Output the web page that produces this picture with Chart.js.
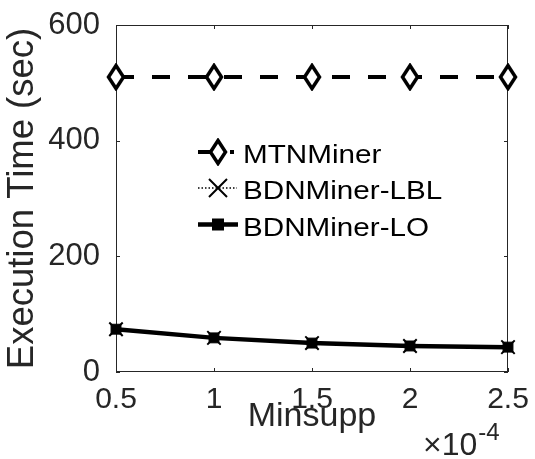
<!DOCTYPE html>
<html>
<head>
<meta charset="utf-8">
<script src="https://cdn.jsdelivr.net/npm/chart.js@4"></script>
<style>
  html, body { margin: 0; padding: 0; background: #fff; }
  #wrap { width: 535px; height: 459px; position: relative; }
</style>
</head>
<body>
<div id="wrap"><canvas id="c" width="535" height="459"></canvas></div>
<script>
// ---- data ----
const minsupp = [0.5, 1, 1.5, 2, 2.5];
const xTickLabels = ['0.5', '1', '1.5', '2', '2.5'];
const yTickLabels = ['0', '200', '400', '600'];
const seriesNames = ['MTNMiner', 'BDNMiner-LBL', 'BDNMiner-LO'];
const mtnMiner = [510, 510, 510, 510, 510];
const bdnLBL = [74, 59, 50, 45, 43];
const bdnLO = [74, 59, 50, 45, 43];
const xExponent = '-4';

const TXT = '#262626';
const FONT = '"Liberation Sans", Arial, Helvetica, sans-serif';

function makeDiamond() {
  const cv = document.createElement('canvas');
  cv.width = 22; cv.height = 28;
  const g = cv.getContext('2d');
  g.beginPath();
  g.moveTo(11, 2.5); g.lineTo(18.5, 14); g.lineTo(11, 25.5); g.lineTo(3.5, 14); g.closePath();
  g.fillStyle = '#fff'; g.fill();
  g.lineWidth = 3.5; g.strokeStyle = '#000'; g.lineJoin = 'miter'; g.stroke();
  return cv;
}
const diamond = makeDiamond();

const toXY = (arr) => arr.map((v, i) => ({ x: minsupp[i], y: v }));

const framePlugin = {
  id: 'frame',
  beforeDatasetsDraw(chart) {
    const { ctx, chartArea: a, scales: { x, y } } = chart;
    ctx.save();
    ctx.strokeStyle = TXT;
    ctx.lineWidth = 1;
    ctx.strokeRect(Math.round(a.left) + 0.5, Math.round(a.top) + 0.5,
      Math.round(a.right - a.left) - 1, Math.round(a.bottom - a.top) - 1);
    const tl = 4;
    ctx.beginPath();
    x.ticks.forEach(t => {
      const px = Math.round(x.getPixelForValue(t.value)) + 0.5;
      ctx.moveTo(px, a.bottom); ctx.lineTo(px, a.bottom - tl);
      ctx.moveTo(px, a.top); ctx.lineTo(px, a.top + tl);
    });
    y.ticks.forEach(t => {
      const py = Math.round(y.getPixelForValue(t.value)) + 0.5;
      ctx.moveTo(a.left, py); ctx.lineTo(a.left + tl, py);
      ctx.moveTo(a.right, py); ctx.lineTo(a.right - tl, py);
    });
    ctx.stroke();
    ctx.restore();
  },
  afterDraw(chart) {
    const { ctx } = chart;
    ctx.save();
    const x0 = 198, x1 = 237, xm = 218, tx = 243;
    const base = [163, 199, 235.5];
    ctx.strokeStyle = '#000';
    ctx.fillStyle = '#000';
    let cy = base[0] - 11;
    ctx.lineWidth = 4;
    ctx.beginPath();
    ctx.moveTo(x0, cy); ctx.lineTo(x0 + 12, cy);
    ctx.moveTo(230, cy); ctx.lineTo(234, cy);
    ctx.stroke();
    ctx.drawImage(diamond, xm - 11, cy - 14);
    cy = base[1] - 11;
    ctx.lineWidth = 1.3;
    ctx.setLineDash([1.5, 2]);
    ctx.beginPath(); ctx.moveTo(x0, cy); ctx.lineTo(x1, cy); ctx.stroke();
    ctx.setLineDash([]);
    ctx.lineWidth = 2;
    ctx.beginPath();
    ctx.moveTo(xm - 9, cy - 9); ctx.lineTo(xm + 9, cy + 9);
    ctx.moveTo(xm + 9, cy - 9); ctx.lineTo(xm - 9, cy + 9);
    ctx.stroke();
    cy = base[2] - 11;
    ctx.lineWidth = 4.5;
    ctx.beginPath(); ctx.moveTo(x0, cy); ctx.lineTo(x1 + 1, cy); ctx.stroke();
    ctx.fillRect(xm - 6, cy - 6, 12, 12);
    ctx.font = '26px ' + FONT;
    ctx.textBaseline = 'alphabetic';
    ctx.textAlign = 'left';
    seriesNames.forEach((n, i) => {
      ctx.save();
      ctx.translate(tx, base[i]);
      ctx.scale(1.14, 1);
      ctx.fillText(n, 0, 0);
      ctx.restore();
    });
    ctx.fillStyle = TXT;
    ctx.font = '32px ' + FONT;
    ctx.fillText('\u00d710', 423, 455);
    const w = ctx.measureText('\u00d710').width;
    ctx.font = '24px ' + FONT;
    ctx.fillText(xExponent, 423 + w + 1, 440);
    ctx.restore();
  }
};

new Chart(document.getElementById('c'), {
  type: 'line',
  data: {
    datasets: [
      {
        label: seriesNames[2], data: toXY(bdnLO), order: 0,
        borderColor: '#000', borderWidth: 4.5, backgroundColor: '#000',
        pointStyle: 'rect', pointRadius: 7, pointBorderWidth: 1,
        pointBackgroundColor: '#000', pointBorderColor: '#000',
        tension: 0, clip: false
      },
      {
        label: seriesNames[1], data: toXY(bdnLBL), order: 1,
        borderColor: '#000', borderWidth: 1.3, borderDash: [1.5, 2],
        pointStyle: 'crossRot', pointRadius: 9.5, pointBorderWidth: 2,
        pointBorderColor: '#000', tension: 0, clip: false
      },
      {
        label: seriesNames[0], data: toXY(mtnMiner), order: 2,
        borderColor: '#000', borderWidth: 4, borderDash: [18, 18],
        pointStyle: diamond, tension: 0, clip: false
      }
    ]
  },
  options: {
    responsive: false,
    animation: false,
    events: [],
    layout: { autoPadding: false, padding: { top: 25, right: 27, left: 0, bottom: 0 } },
    plugins: { legend: { display: false }, tooltip: { enabled: false } },
    scales: {
      x: {
        type: 'linear', min: 0.5, max: 2.5,
        afterFit(s) { s.height = 87; s.paddingLeft = 0; s.paddingRight = 0; },
        afterBuildTicks(s) { s.ticks = minsupp.map(v => ({ value: v })); },
        grid: { display: false, drawTicks: false },
        border: { display: false },
        ticks: {
          color: TXT, padding: 10, maxRotation: 0, autoSkip: false,
          font: { family: FONT, size: 30 },
          callback: (v, i) => xTickLabels[i]
        },
        title: {
          display: true, text: 'Minsupp', color: TXT,
          font: { family: FONT, size: 34 }, padding: { top: 0, bottom: 22 }
        }
      },
      y: {
        type: 'linear', min: 0, max: 600,
        afterFit(s) { s.width = 116; s.paddingTop = 0; s.paddingBottom = 0; },
        afterBuildTicks(s) { s.ticks = yTickLabels.map(v => ({ value: Number(v) })); },
        grid: { display: false, drawTicks: false },
        border: { display: false },
        ticks: {
          color: TXT, padding: 16,
          font: { family: FONT, size: 31 },
          callback: (v, i) => yTickLabels[i]
        },
        title: {
          display: true, text: 'Execution Time (sec)', color: TXT,
          font: { family: FONT, size: 36.5 }, padding: { top: 1, bottom: 0 }
        }
      }
    }
  },
  plugins: [framePlugin]
});
</script>
</body>
</html>
